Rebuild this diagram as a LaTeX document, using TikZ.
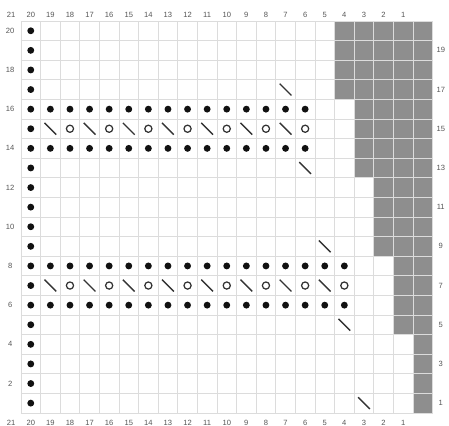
\documentclass[tikz,border=0pt]{standalone}
\usepackage{fontspec}
\setmainfont{Liberation Sans}
\usepackage{tikz}
\usetikzlibrary{calc}
\definecolor{ChartGrid}{HTML}{DCDCDC}
\definecolor{ChartShade}{HTML}{8E8E8E}
\definecolor{ChartInk}{HTML}{111111}
\definecolor{ChartSlash}{HTML}{333333}
\definecolor{ChartLabel}{HTML}{555555}

\begin{document}
\begin{tikzpicture}[
    x=0.5cm,y=0.5cm,
    font=\fontsize{5.5}{6}\selectfont,
    lbl/.style={text=ChartLabel,inner sep=0pt},
    shade/.style={fill=ChartShade,draw=none},
    purl/.style={circle,fill=ChartInk,inner sep=0pt,minimum size=5pt},
    yo/.style={circle,draw=ChartSlash,line width=0.9pt,fill=white,inner sep=0pt,minimum size=5.2pt},
    dec/.style={ChartSlash,line width=1pt}
  ]
    \useasboundingbox (-1.07,-0.66) rectangle (21.84,21.07);
    % shaded (no stitch) cells
    \foreach \b in {0,...,4}
      \fill[shade] (20-\b,4*\b) rectangle (21,4*\b+4);
    \draw[ChartGrid,line width=0.5pt,step=0.5cm] (0,0) grid (21,20);
    % column and row numbers
    \foreach \c in {1,...,21} {
      \node[lbl] (top-\c) at (20.5-\c,20.31) {\c};
      \node[lbl] (bot-\c) at (20.5-\c,-0.5) {\c};
    }
    \foreach \r in {2,4,...,20}
      \node[lbl] (left-\r) at (-0.55,\r-0.5) {\r};
    \foreach \r in {1,3,...,19}
      \node[lbl] (right-\r) at (21.42,\r-0.5) {\r};
    % edge column
    \foreach \r in {1,...,20}
      \node[purl] (p-20-\r) at (0.5,\r-0.5) {};
    % purl ridges
    \foreach \r/\last in {16/6,14/6,8/4,6/4}
      \foreach \c in {\last,...,19}
        \node[purl] (p-\c-\r) at (20.5-\c,\r-0.5) {};
    % eyelet rows
    \foreach \r/\last in {15/6,7/4}
      \foreach \c in {\last,...,19} {
        \ifodd\c
          \draw[dec] ($(20.5-\c,\r-0.5)+(-0.3,0.3)$) -- ($(20.5-\c,\r-0.5)+(0.3,-0.3)$);
        \else
          \node[yo] (o-\c-\r) at (20.5-\c,\r-0.5) {};
        \fi
      }
    % single decreases
    \foreach \c/\r in {7/17,6/13,5/9,4/5,3/1}
      \draw[dec] ($(20.5-\c,\r-0.5)+(-0.3,0.3)$) -- ($(20.5-\c,\r-0.5)+(0.3,-0.3)$);
  \end{tikzpicture}
\end{document}
